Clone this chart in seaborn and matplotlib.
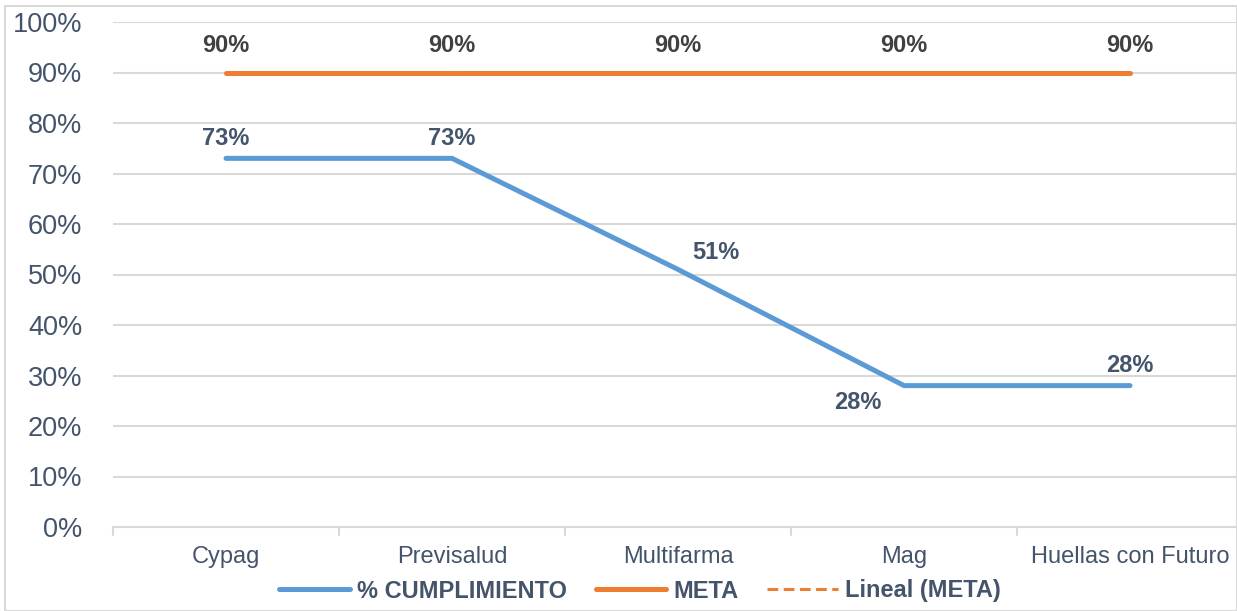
import numpy as np
import pandas as pd
import matplotlib
matplotlib.use("Agg")
import matplotlib.pyplot as plt
import seaborn as sns
from matplotlib.lines import Line2D
from matplotlib.patches import Rectangle

categories = ["Cypag", "Previsalud", "Multifarma", "Mag", "Huellas con Futuro"]
cumplimiento = [73, 73, 51, 28, 28]
meta = [90, 90, 90, 90, 90]
y_ticks = [0, 10, 20, 30, 40, 50, 60, 70, 80, 90, 100]

sns.set_theme(style="white")
plt.rcParams["font.family"] = ["Liberation Sans", "DejaVu Sans"]

BLUE = "#5B9BD5"
ORANGE = "#ED7D31"
SLATE = "#44546A"
DARK = "#404040"
GRID = "#D9D9D9"

pos = np.arange(len(categories))
df = pd.DataFrame({"pos": pos, "cat": categories, "cumpl": cumplimiento, "meta": meta})

fig = plt.figure(figsize=(12.37, 6.11), dpi=100)
ax = fig.add_axes([113 / 1237, 84 / 611, 1130 / 1237, 505 / 611])

# linear trend of META
coef = np.polyfit(df["pos"], df["meta"], 1)
trend = np.polyval(coef, df["pos"])
ax.plot(df["pos"], trend, color=ORANGE, lw=2.2, ls=(0, (3.5, 1.8)), zorder=2)

sns.lineplot(data=df, x="pos", y="meta", ax=ax, color=ORANGE, lw=3.6,
             solid_capstyle="round", zorder=3, legend=False)
sns.lineplot(data=df, x="pos", y="cumpl", ax=ax, color=BLUE, lw=3.6,
             solid_capstyle="round", zorder=3, legend=False)

ax.set_xlim(-0.5, len(categories) - 0.5)
ax.set_ylim(0, 100)
ax.set_yticks(y_ticks)
ax.set_yticklabels([f"{v}%" for v in y_ticks], fontsize=19.5, color=SLATE)
ax.set_xticks(pos)
ax.set_xticklabels(categories, fontsize=17, color=SLATE)
ax.tick_params(axis="x", length=0, pad=14)
ax.tick_params(axis="y", length=0, pad=22)
ax.set_xlabel("")
ax.set_ylabel("")
for s in ["top", "right", "left"]:
    ax.spines[s].set_visible(False)
ax.spines["bottom"].set_color(GRID)
ax.spines["bottom"].set_linewidth(1.5)
ax.yaxis.grid(True, color=GRID, lw=1.5)
ax.set_axisbelow(True)
# category boundary ticks
for b in np.arange(-0.5, len(categories), 1.0):
    ax.plot([b, b], [0, -1.6], color=GRID, lw=1.5, clip_on=False)

# data labels
for i, v in enumerate(meta):
    ax.annotate(f"{v}%", (pos[i], v), xytext=(0, 11), textcoords="offset points",
                ha="center", va="bottom", fontsize=17, fontweight="bold", color=DARK)
offsets = [(0, 6), (0, 6), (27, 4), (-33, -4), (0, 6)]
vas = ["bottom", "bottom", "bottom", "top", "bottom"]
for i, v in enumerate(cumplimiento):
    ax.annotate(f"{v}%", (pos[i], v), xytext=offsets[i], textcoords="offset points",
                ha="center", va=vas[i], fontsize=17, fontweight="bold", color=SLATE)

handles = [
    Line2D([], [], color=BLUE, lw=3.6, solid_capstyle="round"),
    Line2D([], [], color=ORANGE, lw=3.6, solid_capstyle="round"),
    Line2D([], [], color=ORANGE, lw=2.2, ls=(0, (3.5, 1.8))),
]
labels = ["% CUMPLIMIENTO", "META", "Lineal (META)"]
leg = fig.legend(handles, labels, loc="center", bbox_to_anchor=(640 / 1237, 1 - 591 / 611),
                 ncol=3, frameon=False, handlelength=3.0, columnspacing=1.2,
                 handletextpad=0.3, prop={"size": 17, "weight": "bold"})
for t in leg.get_texts():
    t.set_color(SLATE)

fig.patches.append(Rectangle((5 / 1237, 0), 1 - 5 / 1237, 1 - 6 / 611, transform=fig.transFigure,
                             fill=False, edgecolor=GRID, lw=1.5))

fig.savefig("out.png", dpi=100)
